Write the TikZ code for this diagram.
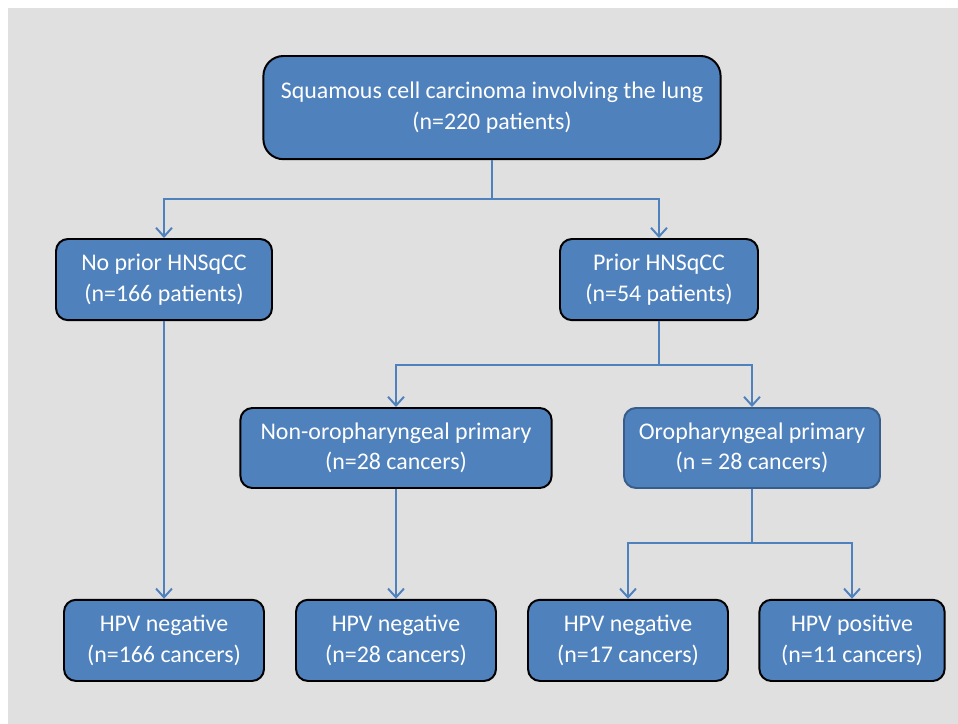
\documentclass[tikz,border=0pt]{standalone}
\usepackage{fontspec}
\setmainfont{Carlito}
\usepackage{xcolor}
\usetikzlibrary{arrows.meta}
\definecolor{boxblue}{HTML}{4F81BD}
\definecolor{boxedge}{HTML}{385D8A}
\definecolor{bggray}{HTML}{E0E0E0}

\begin{document}
\begin{tikzpicture}[
			mybox/.style={draw=black, fill=boxblue, text=white, align=center, rounded corners=0.3cm, line width=1.4pt, inner sep=0pt, font=\fontsize{17}{21.5}\selectfont},
			myline/.style={draw=boxblue, line width=1.4pt},
			myarrow/.style={myline, -{Straight Barb[length=2.2mm,width=4mm]}}
		]
		\useasboundingbox (0,0) rectangle (23.95,18.1);
		\fill[bggray] (0.2,0) rectangle (23.95,17.9);

		\node[mybox, minimum width=11.43cm, minimum height=2.58cm, rounded corners=0.5cm] (top) at (12.3,15.41) {Squamous cell carcinoma involving the lung\\(n=220 patients)};

		\node[mybox, minimum width=5.4cm, minimum height=2.03cm] (noprior) at (4.1,11.11) {No prior HNSqCC\\(n=166 patients)};
		\node[mybox, minimum width=4.95cm, minimum height=2.03cm] (prior) at (16.475,11.11) {Prior HNSqCC\\(n=54 patients)};

		\node[mybox, minimum width=7.78cm, minimum height=2cm] (nonoro) at (9.9,6.9) {Non-oropharyngeal primary\\(n=28 cancers)};
		\node[mybox, draw=boxedge, minimum width=6.4cm, minimum height=2cm] (oro) at (18.8,6.9) {Oropharyngeal primary\\(n = 28 cancers)};

		\node[mybox, minimum width=5cm, minimum height=2.03cm] (hpvA) at (4.1,2.09) {HPV negative\\(n=166 cancers)};
		\node[mybox, minimum width=5cm, minimum height=2.03cm] (hpvB) at (9.9,2.09) {HPV negative\\(n=28 cancers)};
		\node[mybox, minimum width=5cm, minimum height=2.03cm] (hpvC) at (15.7,2.09) {HPV negative\\(n=17 cancers)};
		\node[mybox, minimum width=4.63cm, minimum height=2.03cm] (hpvD) at (21.3,2.09) {HPV positive\\(n=11 cancers)};

		% branch points
		\coordinate (j1) at (12.3,13.125);
		\coordinate (j2) at (16.475,8.975);
		\coordinate (j3) at (18.8,4.525);

		\draw[myline] (top) -- (j1);
		\draw[myarrow] (j1) -| (noprior);
		\draw[myarrow] (j1) -| (prior);

		\draw[myline] (prior) -- (j2);
		\draw[myarrow] (j2) -| (nonoro);
		\draw[myarrow] (j2) -| (oro);

		\draw[myarrow] (noprior) -- (hpvA);
		\draw[myarrow] (nonoro) -- (hpvB);

		\draw[myline] (oro) -- (j3);
		\draw[myarrow] (j3) -| (hpvC);
		\draw[myarrow] (j3) -| (hpvD);
	\end{tikzpicture}
\end{document}
